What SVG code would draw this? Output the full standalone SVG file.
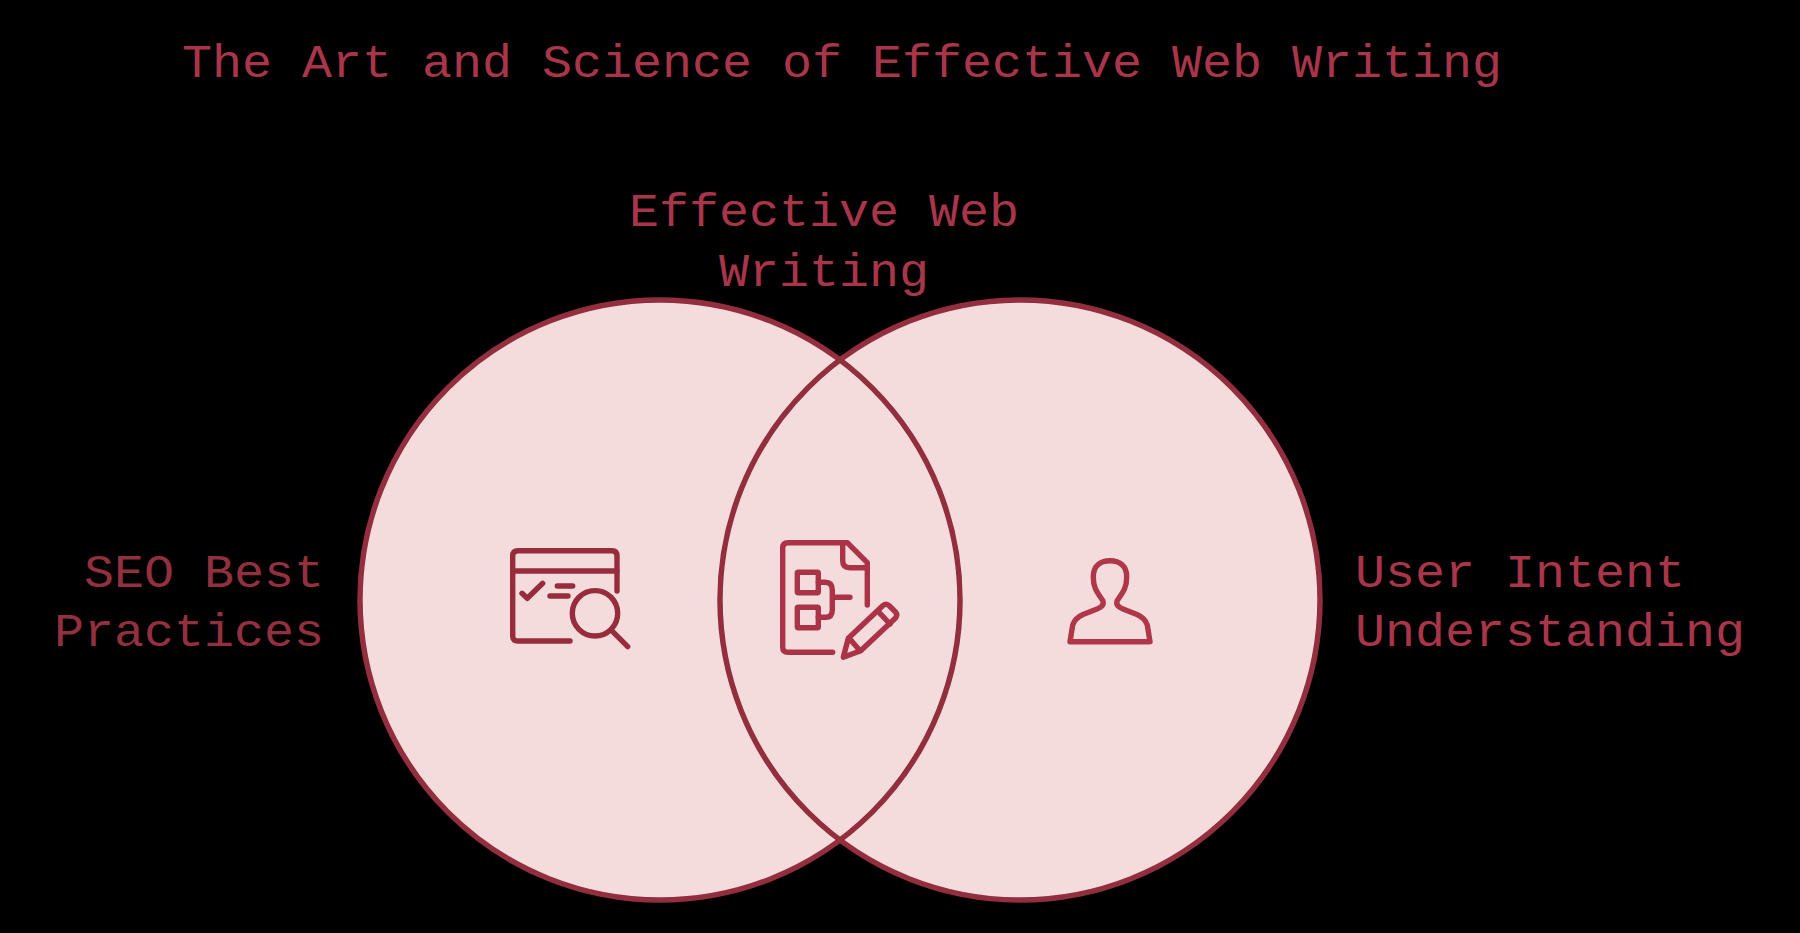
<svg xmlns="http://www.w3.org/2000/svg" width="1800" height="933" viewBox="0 0 1800 933">
<style>
text{font-family:"Liberation Mono","DejaVu Sans Mono",monospace;font-size:46px;fill:#a83549}
.d{fill:#93303f}
.c{fill:#f4dcdd}
.o{fill:none;stroke:#922e3e;stroke-width:5.500}
.i{fill:none;stroke-width:5.400;stroke-linecap:round;stroke-linejoin:round}
</style>
<rect width="1800" height="933" fill="#000"/>
<text id="title" transform="translate(182 77) scale(1.087 1)">The Art and Science of Effective Web Writing</text>
<g id="circle-left"><circle class="c" cx="660" cy="600" r="300"/></g>
<g id="circle-right"><circle class="c" cx="1020" cy="600" r="300"/></g>
<g id="outlines"><circle class="o" cx="660" cy="600" r="300"/><circle class="o" cx="1020" cy="600" r="300"/></g>
<g id="label-top" text-anchor="middle"><text transform="translate(824 226) scale(1.087 1)">Effective Web</text><text transform="translate(824 286) scale(1.087 1)">Writing</text></g>
<g id="label-left" text-anchor="end"><text class="d" transform="translate(324 587) scale(1.087 1)">SEO Best</text><text class="d" transform="translate(324 646) scale(1.087 1)">Practices</text></g>
<g id="label-right"><text transform="translate(1355 587) scale(1.087 1)">User Intent</text><text transform="translate(1355 646) scale(1.087 1)">Understanding</text></g>
<g id="icon-seo" class="i" stroke="#962c3c">
<path d="M570 641H518Q512.700 641 512.700 636V556Q512.700 550.700 518 550.700H612Q617 550.700 617 556V591"/>
<path d="M512.700 571H617M522 593.300L527.300 598.300L542.700 583.300M557.300 586H572.700M550 596H568"/>
<circle cx="595" cy="613.300" r="22.700"/><path d="M612.700 631.700L627.700 646.700"/>
</g>
<g id="icon-doc" class="i" stroke="#ab3347">
<path d="M832.700 652.300H788Q782.700 652.300 782.700 647V548Q782.700 542.700 788 542.700H847.300L867.300 562.700V605"/>
<path d="M842.700 545V561Q842.700 567.700 850 567.700H867"/>
<rect x="797.300" y="572.300" width="21" height="20.400" rx="1"/><rect x="797.300" y="607.300" width="21" height="20.400" rx="1"/>
<path d="M818.300 582.300H825Q832.300 582.300 832.300 590V610Q832.300 617.300 825.700 617.300H818.300M832.300 597.300H850"/>
<path d="M843.300 657.300L848.300 638.300L883 605.500Q886 603 889 605.500L895.500 612Q898 615 895.500 618L860.700 650.700Z"/>
<path d="M878.300 611.700L890 624M850.700 640L860 650.700"/>
</g>
<g id="icon-user" class="i" stroke="#b03649">
<path d="M1070 641.700L1072.700 625Q1075 618 1083 614.500L1097 609Q1104.500 606 1103 601C1097 592 1093.300 588 1093.300 577C1093.300 566 1100 560.700 1110 560.700C1120 560.700 1126.700 566 1126.700 577C1126.700 588 1123 592 1117 601Q1115.500 606 1123 609L1137 614.500Q1145 618 1147.300 625L1150 641.700Z"/>
</g>
</svg>
